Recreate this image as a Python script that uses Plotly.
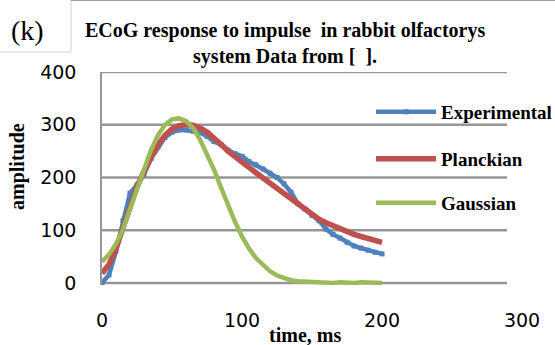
import plotly.graph_objects as go

time_ms = list(range(0, 205, 5))

experimental = [0, 15, 60, 118, 170, 186, 206, 236, 258, 276, 286, 290, 290, 288, 285, 278, 268, 262, 252, 245,
                240, 230, 224, 216, 208, 200, 188, 172, 150, 140, 128, 118, 102, 92, 85, 77, 70, 66, 62, 58, 55]
planckian = [18, 35, 65, 105, 148, 182, 212, 240, 262, 280, 292, 298, 300, 299, 294, 286, 276, 263, 250, 239,
             229, 219, 209, 199, 189, 179, 168, 158, 148, 138, 129, 121, 114, 108, 102, 97, 92, 88, 84, 80, 77]
gaussian = [40, 54, 74, 102, 140, 178, 216, 252, 280, 300, 310, 312, 307, 294, 272, 245, 215, 181, 148, 116,
            88, 65, 47, 33, 22, 14, 9, 5, 3, 2, 1, 1, 0, 0, 1, 0, 0, 1, 0, 0, 0]

x_ticks = [0, 100, 200, 300]
y_ticks = [0, 100, 200, 300, 400]

W, H = 555, 345
L, R, T, B = 102, 33, 72, 60
pw, ph = W - L - R, H - T - B


def px_x(p):
    return (p - L) / pw


def px_y(p):
    return (H - B - p) / ph


serif = "Liberation Serif"
sans = "DejaVu Sans"

fig = go.Figure()
fig.add_trace(go.Scatter(x=time_ms, y=experimental, name="<b>Experimental</b>", mode="lines+markers",
                         line=dict(color="#4F81BD", width=4.5),
                         marker=dict(color="#4F81BD", size=5, symbol="square"),
                         legend="legend"))
fig.add_trace(go.Scatter(x=time_ms, y=planckian, name="<b>Planckian</b>", mode="lines",
                         line=dict(color="#C0504D", width=5.5), legend="legend2"))
fig.add_trace(go.Scatter(x=time_ms, y=gaussian, name="<b>Gaussian</b>", mode="lines",
                         line=dict(color="#9BBB59", width=4.5), legend="legend3"))

shapes = []
for v in y_ticks:
    shapes.append(dict(type="line", xref="paper", yref="y", x0=0, x1=px_x(507), y0=v, y1=v,
                       line=dict(color="#969696", width=2.5), layer="below"))
# frame decorations
shapes.append(dict(type="line", xref="paper", yref="paper", x0=px_x(71), x1=px_x(71), y0=px_y(0), y1=px_y(52),
                   line=dict(color="#d0d0d0", width=1)))
shapes.append(dict(type="line", xref="paper", yref="paper", x0=px_x(0), x1=px_x(71), y0=px_y(52), y1=px_y(52),
                   line=dict(color="#d0d0d0", width=1)))
shapes.append(dict(type="line", xref="paper", yref="paper", x0=px_x(71), x1=px_x(555), y0=px_y(0.5), y1=px_y(0.5),
                   line=dict(color="#a0a0a0", width=1)))

legfont = dict(family=serif, size=19, color="black")
def leg(ypx):
    return dict(x=px_x(371), y=px_y(ypx), xanchor="left", yanchor="middle", bgcolor="rgba(0,0,0,0)",
                font=legfont, itemwidth=60, borderwidth=0)

fig.update_layout(
    width=W, height=H,
    margin=dict(l=L, r=R, t=T, b=B, autoexpand=False),
    paper_bgcolor="white", plot_bgcolor="white",
    showlegend=True,
    legend=leg(112), legend2=leg(159), legend3=leg(203),
    shapes=shapes,
    xaxis=dict(range=[0, 300], tickvals=x_ticks, showgrid=False, zeroline=False, showline=False,
               ticks="", tickfont=dict(family=sans, size=19, color="black"), ticklabelstandoff=22),
    yaxis=dict(range=[-4, 400], tickvals=y_ticks, showgrid=False, zeroline=False, showline=True,
               linecolor="#969696", linewidth=1.5,
               ticks="", tickfont=dict(family=sans, size=19, color="black"), ticklabelstandoff=20),
    annotations=[
        dict(text="(k)", x=px_x(9), y=px_y(30), xref="paper", yref="paper", xanchor="left", yanchor="middle",
             showarrow=False, font=dict(family=serif, size=28, color="black")),
        dict(text="<b>ECoG response to impulse  in rabbit olfactorys</b><br><b>system Data from [  ].</b>",
             x=px_x(285), y=px_y(43), xref="paper", yref="paper", xanchor="center", yanchor="middle",
             showarrow=False, align="center", font=dict(family=serif, size=20, color="black")),
        dict(text="<b>amplitude</b>", x=px_x(17), y=px_y(167), xref="paper", yref="paper", textangle=-90,
             xanchor="center", yanchor="middle", showarrow=False, font=dict(family=serif, size=20, color="black")),
        dict(text="<b>time, ms</b>", x=px_x(305), y=px_y(335), xref="paper", yref="paper",
             xanchor="center", yanchor="middle", showarrow=False, font=dict(family=serif, size=20, color="black")),
    ],
)

fig.write_html("out.html")
